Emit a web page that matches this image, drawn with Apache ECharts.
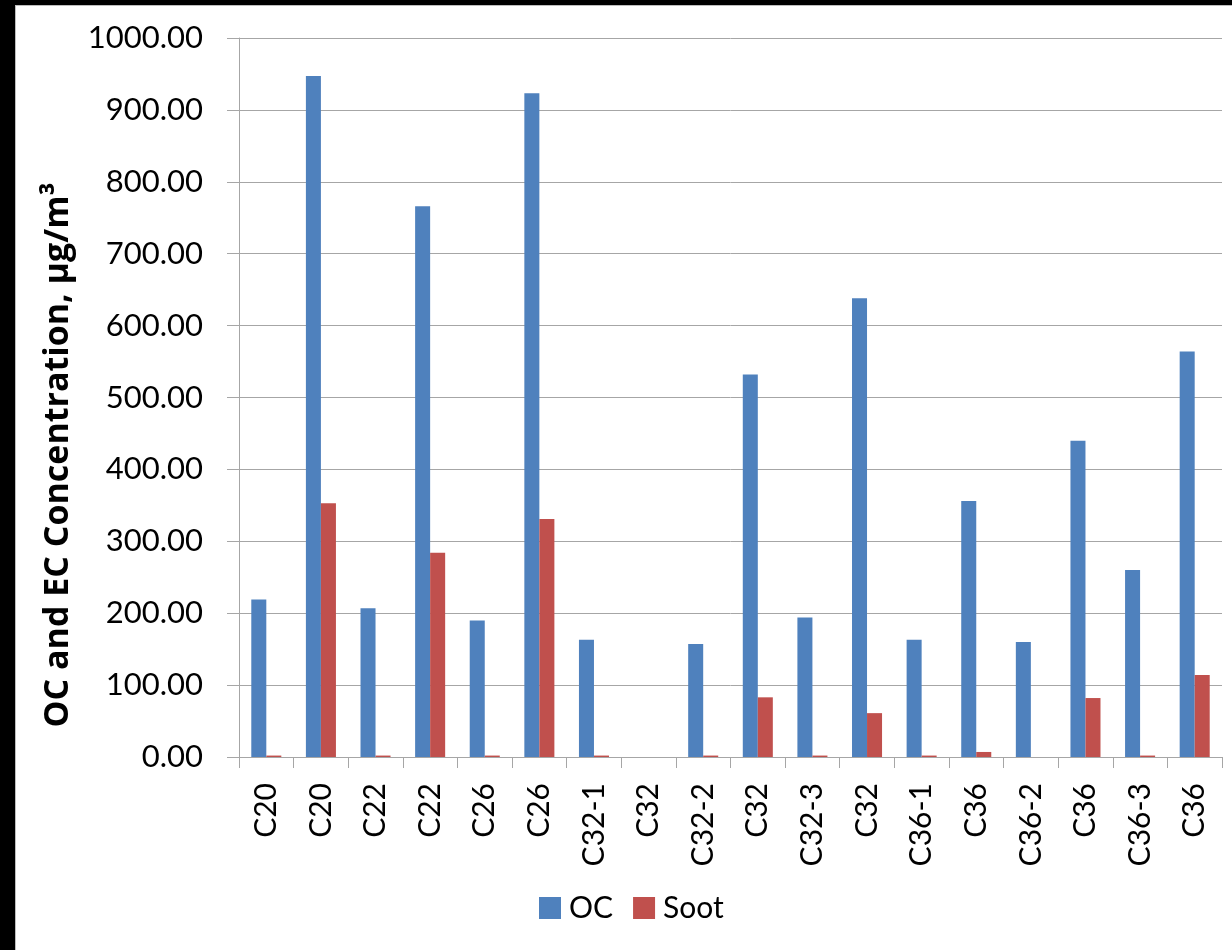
<!DOCTYPE html>
<html>
<head>
<meta charset="utf-8">
<script src="https://cdn.jsdelivr.net/npm/echarts@6/dist/echarts.min.js"></script>
<style>
  html, body { margin: 0; padding: 0; background: #000; }
  #sheet { position: absolute; left: 15px; top: 5px; width: 1217px; height: 945px;
           background: #fff; border-left: 1px solid #bdbdbd; border-top: 1px solid #bdbdbd; box-sizing: border-box; }
  #chart { position: absolute; left: 0; top: 0; width: 1232px; height: 950px; }
</style>
</head>
<body>
<div id="sheet"></div>
<div id="chart"></div>
<script>
// Sample labels along the x axis
const categories = ['C20', 'C20', 'C22', 'C22', 'C26', 'C26', 'C32-1', 'C32', 'C32-2',
                    'C32', 'C32-3', 'C32', 'C36-1', 'C36', 'C36-2', 'C36', 'C36-3', 'C36'];

// Organic carbon concentration, µg/m³
const ocValues = [219, 947, 207, 766, 190, 923, 163, 0, 157,
                  532, 194, 638, 163, 356, 160, 440, 260, 564];

// Soot (elemental carbon) concentration, µg/m³
const sootValues = [2, 353, 2, 284, 2, 331, 2, 0, 2,
                    83, 2, 61, 2, 7, 0, 82, 2, 114];

const yTicks = { min: 0, max: 1000, step: 100 };
const seriesNames = ['OC', 'Soot'];
const yTitle = 'OC and EC Concentration, µg/m³';

const FONT = 'Lato, "Open Sans", sans-serif';
const TITLE_FONT = '"Open Sans", Lato, sans-serif';
const AXIS_GRAY = '#a6a6a6';

const chart = echarts.init(document.getElementById('chart'), null, { renderer: 'canvas' });

chart.setOption({
  backgroundColor: 'transparent',
  animation: false,
  grid: { left: 239, right: 10, top: 38, bottom: 193, containLabel: false },
  legend: {
    data: seriesNames,
    bottom: 22,
    left: 534,
    itemWidth: 22,
    itemHeight: 22,
    itemGap: 20,
    icon: 'rect',
    textStyle: { fontFamily: FONT, fontSize: 30, color: '#000', padding: [0, 0, 0, 3] }
  },
  xAxis: {
    type: 'category',
    data: categories,
    axisLine: { lineStyle: { color: AXIS_GRAY, width: 1 } },
    axisTick: { show: true, alignWithLabel: false, length: 11, lineStyle: { color: AXIS_GRAY } },
    axisLabel: {
      interval: 0,
      rotate: 90,
      margin: 26,
      fontFamily: FONT,
      fontSize: 30,
      color: '#000'
    }
  },
  yAxis: {
    type: 'value',
    min: yTicks.min,
    max: yTicks.max,
    interval: yTicks.step,
    axisLine: { show: true, lineStyle: { color: AXIS_GRAY, width: 1 } },
    axisTick: { show: true, length: 12, lineStyle: { color: AXIS_GRAY } },
    splitLine: { lineStyle: { color: AXIS_GRAY, width: 1 } },
    axisLabel: {
      margin: 36,
      fontFamily: FONT,
      fontSize: 31,
      color: '#000',
      formatter: v => v.toFixed(2)
    }
  },
  graphic: [{
    type: 'text',
    x: 58,
    y: 455,
    rotation: Math.PI / 2,
    style: {
      text: yTitle,
      fontFamily: TITLE_FONT,
      fontWeight: 'bold',
      fontSize: 34,
      fill: '#000',
      align: 'center',
      verticalAlign: 'middle'
    }
  }],
  series: [
    {
      name: seriesNames[0],
      type: 'bar',
      data: ocValues,
      barGap: '0%',
      barCategoryGap: '45%',
      itemStyle: { color: '#4f81bd' }
    },
    {
      name: seriesNames[1],
      type: 'bar',
      data: sootValues,
      barGap: '0%',
      barCategoryGap: '45%',
      itemStyle: { color: '#c0504d' }
    }
  ]
});
</script>
</body>
</html>
